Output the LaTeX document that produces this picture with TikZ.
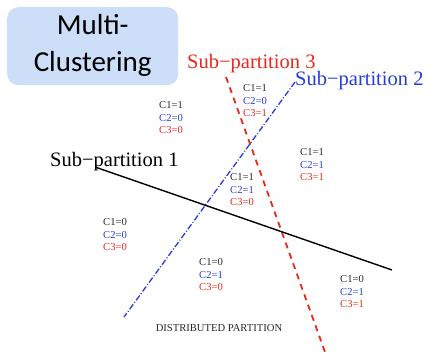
\documentclass[tikz,border=0pt]{standalone}
\usepackage{fontspec}
\setmainfont{Liberation Serif}
\newfontfamily\boxfont{Carlito}
\definecolor{boxblue}{RGB}{204,222,248}
\definecolor{lred}{RGB}{230,40,30}
\definecolor{lblue}{RGB}{40,60,220}
\definecolor{cblack}{RGB}{40,40,40}
\begin{document}
\begin{tikzpicture}[x=1pt,y=-1pt,
  title/.style={rounded corners=11pt, fill=boxblue, draw=none},
  ptitle/.style={font=\fontsize{20.5}{22}\selectfont, inner sep=0pt, anchor=base west},
  lbl/.style={font=\fontsize{10.6}{12.5}\selectfont, inner sep=0pt, anchor=west, align=left},
  redline/.style={draw=lred, line width=1.8pt, dash pattern=on 6pt off 5pt},
  blueline/.style={draw=lblue, line width=1.3pt, dash pattern=on 6pt off 2pt on 1pt off 2pt},
  blackline/.style={draw=black, line width=1.4pt}]
\useasboundingbox (0,0) rectangle (429,353);
\node[title, minimum width=171pt, minimum height=78pt, anchor=north west] (box) at (7,7) {};
\node[font=\boxfont\fontsize{29}{37}\selectfont, align=center, inner sep=0pt] (btxt) at ([yshift=1pt]box.center) {Multi-\\Clustering};
% lines
\coordinate (r1) at (226,77); \coordinate (r2) at (325,352);
\coordinate (b1) at (295,82); \coordinate (b2) at (124,317);
\coordinate (k1) at (95,167); \coordinate (k2) at (392,270);
\draw[redline] (r1) -- (r2);
\draw[blueline] (b1) -- (b2);
\draw[blackline] (k1) -- (k2);
% titles
\node[ptitle, text=lred] (sp3) at (187,69) {Sub−partition 3};
\node[ptitle, text=lblue] (sp2) at (295,85) {Sub−partition 2};
\node[ptitle, text=black] (sp1) at (50,166) {Sub−partition 1};
% labels
\node[lbl] (L1) at (159,118) {\textcolor{cblack}{C1=1}\\\textcolor{lblue}{C2=0}\\\textcolor{lred}{C3=0}};
\node[lbl] (L2) at (243,101) {\textcolor{cblack}{C1=1}\\\textcolor{lblue}{C2=0}\\\textcolor{lred}{C3=1}};
\node[lbl] (L3) at (300,165) {\textcolor{cblack}{C1=1}\\\textcolor{lblue}{C2=1}\\\textcolor{lred}{C3=1}};
\node[lbl] (L4) at (230,190) {\textcolor{cblack}{C1=1}\\\textcolor{lblue}{C2=1}\\\textcolor{lred}{C3=0}};
\node[lbl] (L5) at (103,235) {\textcolor{cblack}{C1=0}\\\textcolor{lblue}{C2=0}\\\textcolor{lred}{C3=0}};
\node[lbl] (L6) at (199,275) {\textcolor{cblack}{C1=0}\\\textcolor{lblue}{C2=1}\\\textcolor{lred}{C3=0}};
\node[lbl] (L7) at (340,292) {\textcolor{cblack}{C1=0}\\\textcolor{lblue}{C2=1}\\\textcolor{lred}{C3=1}};
\node[font=\fontsize{10.6}{12}\selectfont, text=cblack, inner sep=0pt] (dp) at (219,328) {DISTRIBUTED PARTITION};
\end{tikzpicture}
\end{document}
